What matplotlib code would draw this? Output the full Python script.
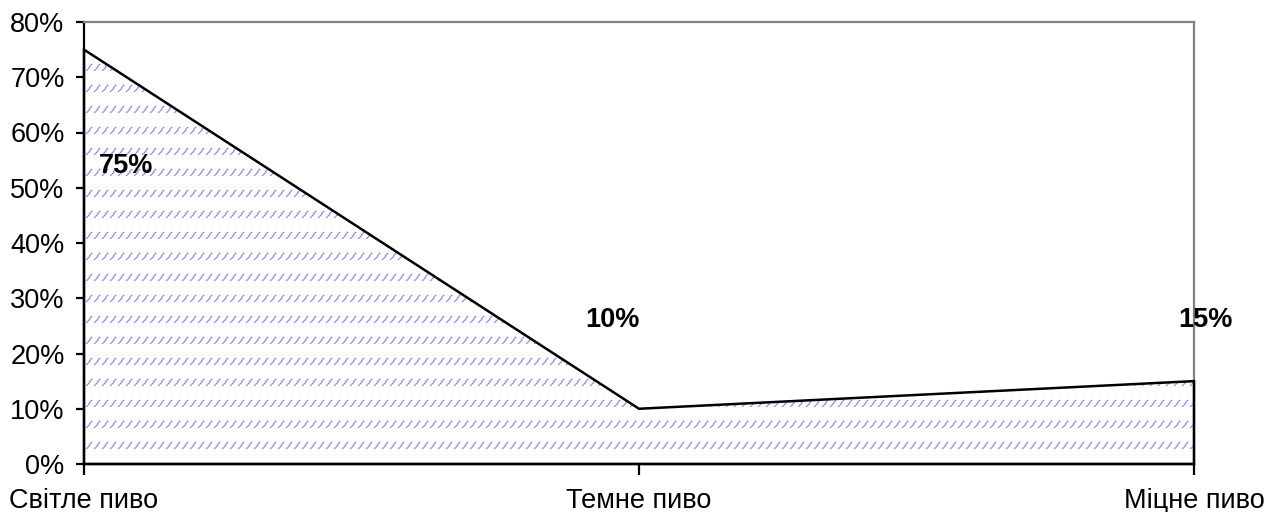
import numpy as np
import matplotlib
matplotlib.use("Agg")
import matplotlib.pyplot as plt
from matplotlib.patches import Polygon
from matplotlib.ticker import FuncFormatter

# Beer type shares
categories = ["Світле пиво", "Темне пиво", "Міцне пиво"]
shares = [75, 10, 15]
share_labels = ["75%", "10%", "15%"]
y_ticks = [0, 10, 20, 30, 40, 50, 60, 70, 80]

plt.rcParams["font.family"] = ["Liberation Sans", "DejaVu Sans"]

W, H, DPI = 1267, 512, 100
fig = plt.figure(figsize=(W / DPI, H / DPI), dpi=DPI)
ax = fig.add_axes([84 / W, 48 / H, 1110 / W, 442 / H])

x = np.arange(len(categories))
ax.set_xlim(x[0], x[-1])
ax.set_ylim(y_ticks[0], y_ticks[-1])

# Slashed texture for the filled area, built in pixel space
pw, ph = 1110, 442
tex = np.ones((ph, pw, 4))
tex[..., 3] = 0.0
dash_color = np.array([0.45, 0.45, 1.0])


def put(yy, xx, a):
    if 0 <= yy < ph and 0 <= xx < pw:
        tex[yy, xx, :3] = dash_color
        tex[yy, xx, 3] = max(tex[yy, xx, 3], a)


for row_bottom in range(ph - 16, 0, -21):
    for col in range(2, pw, 8):
        for k in range(7):
            yy = row_bottom - k
            xx = col + int(round(k * 0.85))
            put(yy, xx, 0.9 if k % 2 == 0 else 0.7)
            put(yy, xx + 1, 0.35)
            put(yy - 1, xx, 0.25)
im = ax.imshow(tex, extent=(x[0], x[-1], y_ticks[0], y_ticks[-1]),
               aspect="auto", interpolation="nearest", origin="upper", zorder=1)

verts = [(x[0], 0)] + list(zip(x, shares)) + [(x[-1], 0)]
area = Polygon(verts, closed=True, facecolor="none", edgecolor="black",
               linewidth=1.8, zorder=3, clip_on=False)
ax.add_patch(area)
im.set_clip_path(area)

# Spines
for side in ("top", "right"):
    ax.spines[side].set_color("#808080")
    ax.spines[side].set_linewidth(1.6)
for side in ("left", "bottom"):
    ax.spines[side].set_color("black")
    ax.spines[side].set_linewidth(1.6)

ax.set_yticks(y_ticks)
ax.yaxis.set_major_formatter(FuncFormatter(lambda v, p: f"{v:.0f}%"))
ax.set_xticks(x)
ax.set_xticklabels(categories)
ax.tick_params(axis="y", direction="out", length=6, width=1.6, pad=8, labelsize=19.5)
ax.tick_params(axis="x", direction="out", length=8, width=1.6, pad=9, labelsize=19.5)

# Value labels (pixel offsets from each point, positive = up)
offsets = [(42, -116), (-27, 89), (11, 61)]
for xi, v, lab, (dx, dy) in zip(x, shares, share_labels, offsets):
    ax.annotate(lab, xy=(xi, v), xytext=(dx * 72 / DPI, dy * 72 / DPI),
                textcoords="offset points", ha="center", va="center",
                fontsize=19.5, fontweight="bold", annotation_clip=False, zorder=5)

fig.savefig("out.png", dpi=DPI, facecolor="white")
